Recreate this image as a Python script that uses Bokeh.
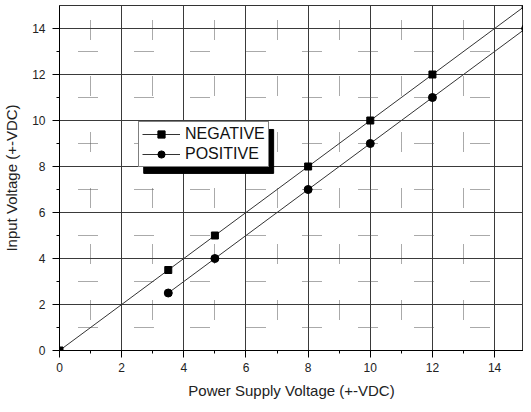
from bokeh.plotting import figure
from bokeh.models import FixedTicker, Legend, LegendItem, BoxAnnotation, Range1d
from bokeh.embed import file_html
from bokeh.resources import INLINE

# data
neg_x = [0, 3.5, 5, 8, 10, 12, 15]
neg_y = [0, 3.5, 5, 8, 10, 12, 15]
pos_x = [3.5, 5, 8, 10, 12, 15]
pos_y = [2.5, 4, 7, 9, 11, 14]
major_ticks = [0, 2, 4, 6, 8, 10, 12, 14]
minor_ticks = [1, 3, 5, 7, 9, 11, 13]

FONT = "Liberation Sans"

p = figure(width=523, height=402, output_backend="svg", toolbar_location=None,
           x_range=Range1d(0, 14.93), y_range=Range1d(0, 15),
           min_border_left=55, min_border_right=0, min_border_top=5, min_border_bottom=52)
p.background_fill_color = "white"
p.border_fill_color = "white"
p.outline_line_color = "#333333"
p.outline_line_width = 1

for ax, lbl in ((p.xaxis[0], "Power Supply Voltage (+-VDC)"), (p.yaxis[0], "Input Voltage (+-VDC)")):
    ax.ticker = FixedTicker(ticks=major_ticks, minor_ticks=minor_ticks)
    ax.axis_label = lbl
    ax.axis_label_text_font = FONT
    ax.axis_label_text_font_size = "15px"
    ax.axis_label_text_font_style = "normal"
    ax.axis_label_text_color = "#222222"
    ax.major_label_text_font = FONT
    ax.major_label_text_font_size = "12px"
    ax.major_label_text_color = "#222222"
    ax.axis_line_color = "black"
    ax.major_tick_line_color = "black"
    ax.minor_tick_line_color = "black"
    ax.major_tick_out = 7
    ax.major_tick_in = 0
    ax.minor_tick_out = 3
    ax.minor_tick_in = 0
p.xaxis.major_label_standoff = 5
p.xaxis.axis_label_standoff = 7
p.yaxis.major_label_standoff = 7
p.yaxis.axis_label_standoff = 9

dots = " ".join(["1 1"] * 9 + ["1 37"])
for g in (p.xgrid[0], p.ygrid[0]):
    g.ticker = FixedTicker(ticks=major_ticks, minor_ticks=minor_ticks)
    g.grid_line_color = "#3a3a3a"
    g.grid_line_width = 1
    g.grid_line_alpha = 1
    g.minor_grid_line_color = "#555555"
    g.minor_grid_line_width = 1
    g.minor_grid_line_dash = dots
p.ygrid[0].minor_grid_line_dash_offset = 37
p.xgrid[0].minor_grid_line_dash_offset = 25

nl = p.line(neg_x, neg_y, line_color="#333333", line_width=1)
ns = p.scatter(neg_x, neg_y, marker="square", size=7, fill_color="black", line_color="black")
pl = p.line(pos_x, pos_y, line_color="#333333", line_width=1)
ps = p.scatter(pos_x, pos_y, marker="circle", size=8, fill_color="black", line_color="black")

# legend shadow
shadow = BoxAnnotation(left=2.71, right=6.89, bottom=7.70, top=9.61,
                       fill_color="black", fill_alpha=1, line_color="black", line_alpha=1)
p.add_layout(shadow)

legend = Legend(items=[LegendItem(label="NEGATIVE", renderers=[nl, ns]),
                       LegendItem(label="POSITIVE", renderers=[pl, ps])],
                location=(79, 183))
legend.label_text_font = FONT
legend.label_text_font_size = "16px"
legend.label_text_color = "#111111"
legend.border_line_color = "black"
legend.border_line_width = 1
legend.background_fill_color = "white"
legend.background_fill_alpha = 1
legend.padding = 3
legend.spacing = 2
legend.margin = 0
legend.label_height = 18
legend.glyph_height = 18
legend.glyph_width = 38
legend.label_standoff = 5
p.add_layout(legend, "center")

open("out.html", "w").write(file_html(p, INLINE))
